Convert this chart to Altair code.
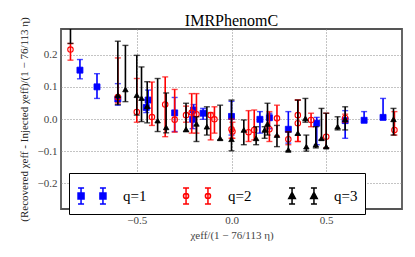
import altair as alt
import pandas as pd

# q=1 (blue squares)
q1_x  = [-0.80, -0.71, -0.60, -0.44, -0.45, -0.30, -0.20, -0.205, -0.15, 0.00, 0.15, 0.20, 0.30, 0.45, 0.60, 0.70, 0.80]
q1_y  = [0.152, 0.100, 0.062, 0.059, 0.036, 0.019, 0.028, -0.001, 0.018, 0.008, -0.001, 0.004, -0.032, -0.013, -0.005, -0.004, 0.005]
q1_lo = [0.125, 0.064, 0.043, 0.034, 0.020, -0.039, 0.000, -0.030, -0.001, -0.050, -0.044, -0.030, -0.075, -0.080, -0.060, -0.008, -0.001]
q1_hi = [0.185, 0.141, 0.110, 0.090, 0.060, 0.067, 0.045, 0.020, 0.033, 0.055, 0.023, 0.018, 0.023, 0.005, 0.026, 0.023, 0.064]

# q=2 (red open circles)
q2_x  = [-0.85, -0.60, -0.50, -0.42, -0.35, -0.30, -0.24, -0.21, -0.185, -0.11, -0.09, 0.00, 0.005, 0.09, 0.12, 0.20, 0.24, 0.30, 0.35, 0.35, 0.42, 0.50, 0.60, 0.86]
q2_y  = [0.216, 0.068, 0.022, 0.006, 0.045, -0.002, 0.012, 0.020, 0.015, 0.012, -0.001, -0.032, -0.039, -0.041, -0.034, -0.032, 0.002, -0.063, 0.012, -0.013, -0.003, -0.055, 0.003, -0.034]
q2_lo = [0.183, 0.050, -0.010, -0.020, -0.055, -0.041, -0.010, -0.044, -0.044, -0.065, -0.044, -0.060, -0.060, -0.070, -0.065, -0.070, -0.053, -0.080, -0.070, -0.070, -0.024, -0.090, -0.010, -0.050]
q2_hi = [0.235, 0.190, 0.126, 0.115, 0.131, 0.092, 0.040, 0.079, 0.079, 0.020, 0.038, 0.000, -0.010, 0.026, 0.028, 0.023, 0.043, -0.040, 0.059, 0.059, 0.018, 0.018, 0.015, 0.023]

# q=3 (black triangles)
q3_x  = [-0.85, -0.60, -0.56, -0.50, -0.475, -0.445, -0.39, -0.345, -0.24, -0.185, -0.13, -0.06, 0.00, 0.065, 0.13, 0.175, 0.19, 0.24, 0.30, 0.35, 0.39, 0.395, 0.445, 0.475, 0.50, 0.56, 0.60, 0.855]
q3_y  = [0.330, 0.074, 0.092, 0.074, 0.065, 0.040, -0.005, -0.026, -0.032, -0.015, -0.024, -0.060, -0.063, -0.034, -0.060, -0.034, -0.015, -0.050, -0.096, -0.044, 0.002, -0.086, -0.080, -0.060, -0.086, -0.024, -0.001, -0.001]
q3_lo = [0.235, 0.045, 0.054, 0.012, -0.008, -0.012, -0.039, -0.043, -0.039, -0.070, -0.050, -0.065, -0.099, -0.080, -0.080, -0.060, -0.050, -0.086, -0.100, -0.050, -0.010, -0.100, -0.090, -0.065, -0.090, -0.034, -0.034, -0.050]
q3_hi = [0.450, 0.242, 0.229, 0.198, 0.162, 0.116, 0.126, 0.081, 0.049, 0.007, 0.038, 0.043, 0.059, -0.003, -0.024, -0.024, 0.049, -0.020, -0.040, 0.059, 0.064, -0.050, -0.024, 0.033, 0.018, 0.007, 0.038, 0.033]

labels = ["q=1", "q=2", "q=3"]
colors = ["#0000ff", "#ff0000", "#000000"]

FONT = "Liberation Serif"
xs = alt.Scale(domain=[-0.9, 0.9], nice=False, zero=False)
ys = alt.Scale(domain=[-0.28, 0.28], nice=False, zero=False)

xaxis = alt.Axis(values=[-0.5, 0.0, 0.5], format=".1f", title="χeff/(1 − 76/113 η)",
                 grid=True, gridDash=[1, 2], gridColor="#888", gridWidth=1,
                 domain=False, ticks=False, labelPadding=5, titlePadding=4,
                 labelFont=FONT, labelFontSize=11, labelColor="#444",
                 titleFont=FONT, titleFontSize=11, titleFontWeight="normal", titleColor="#444")
yaxis = alt.Axis(values=[-0.2, -0.1, 0.0, 0.1, 0.2], format=".1f",
                 title="(Recovered χeff - Injected χeff)/(1 − 76/113 η)",
                 grid=True, gridDash=[1, 2], gridColor="#888", gridWidth=1,
                 domain=False, ticks=False, labelPadding=4, titlePadding=8,
                 labelFont=FONT, labelFontSize=11, labelColor="#444",
                 titleFont=FONT, titleFontSize=11, titleFontWeight="normal", titleColor="#222")


def X(f):
    return alt.X(f, scale=xs, axis=xaxis)

def Y(f):
    return alt.Y(f, scale=ys, axis=yaxis)


def series(xv, yv, lo, hi, color, shape, size, filled):
    df = pd.DataFrame({"x": xv, "y": yv, "lo": lo, "hi": hi})
    base = alt.Chart(df)
    bars = base.mark_rule(color=color, strokeWidth=1.6, clip=True).encode(
        x=X("x:Q"), y=Y("lo:Q"), y2="hi:Q")
    caplo = base.mark_tick(color=color, thickness=1.4, size=6, orient="horizontal", clip=True).encode(
        x=X("x:Q"), y=Y("lo:Q"))
    caphi = base.mark_tick(color=color, thickness=1.4, size=6, orient="horizontal", clip=True).encode(
        x=X("x:Q"), y=Y("hi:Q"))
    if filled:
        pts = base.mark_point(shape=shape, size=size, filled=True, fill=color, stroke=color,
                              strokeWidth=0.8, opacity=1, clip=True)
    else:
        pts = base.mark_point(shape=shape, size=size, filled=False, stroke=color,
                              strokeWidth=1.1, opacity=1, clip=True)
    pts = pts.encode(x=X("x:Q"), y=Y("y:Q"))
    return [bars, caplo, caphi, pts]


# custom legend glyphs: two error-bar markers per entry
def ibeam(c):
    return f"M{c-0.2},-0.53H{c+0.2}M{c},-0.53V0.53M{c-0.2},0.53H{c+0.2}"

def sq(c):
    return f"M{c-0.2},-0.2H{c+0.2}V0.2H{c-0.2}Z"

def circ(c):
    r = 0.17
    return f"M{c-r},0A{r},{r},0,1,1,{c+r},0A{r},{r},0,1,1,{c-r},0Z"

def tri(c):
    return f"M{c},-0.25L{c+0.22},0.17L{c-0.22},0.17Z"

cs = [-0.73, 0.73]
paths = [
    "".join(ibeam(c) + sq(c) for c in cs),
    "".join(ibeam(c) + circ(c) for c in cs),
    "".join(ibeam(c) + tri(c) for c in cs),
]

legend = alt.Legend(title=None, orient="none", legendX=8, legendY=144, direction="horizontal",
                    strokeColor="#000", fillColor="#fff", padding=7, symbolSize=900,
                    symbolStrokeWidth=1.5, labelFont=FONT, labelFontSize=15, labelColor="#000",
                    labelOffset=15, columnPadding=33, symbolOpacity=1)

leg_df = pd.DataFrame({"q": labels, "x": [0, 0, 0], "y": [0, 0, 0]})
leg_layer = alt.Chart(leg_df).transform_filter("false").mark_point(opacity=1).encode(
    x=X("x:Q"), y=Y("y:Q"),
    shape=alt.Shape("q:N", scale=alt.Scale(domain=labels, range=paths), legend=legend),
    fill=alt.Fill("q:N", scale=alt.Scale(domain=labels, range=["#0000ff", "transparent", "#000000"]), legend=legend),
    stroke=alt.Stroke("q:N", scale=alt.Scale(domain=labels, range=colors), legend=legend),
)

layers = []
layers += series(q1_x, q1_y, q1_lo, q1_hi, colors[0], "square", 36, True)
layers += series(q2_x, q2_y, q2_lo, q2_hi, colors[1], "circle", 30, False)
layers += series(q3_x, q3_y, q3_lo, q3_hi, colors[2], "triangle-up", 30, True)
layers.append(leg_layer)

chart = alt.layer(*layers).properties(
    width=341, height=180,
    title=alt.TitleParams("IMRPhenomC", font=FONT, fontSize=16, fontWeight="normal", color="#000",
                          offset=5, dy=17, frame="group", anchor="middle"),
    autosize=alt.AutoSizeParams(type="none"),
    padding={"left": 53, "top": 21, "right": 5, "bottom": 32},
).configure_view(stroke="#555", strokeWidth=1.8)

chart.save("out.html", embed_options={"renderer": "svg", "actions": False})
